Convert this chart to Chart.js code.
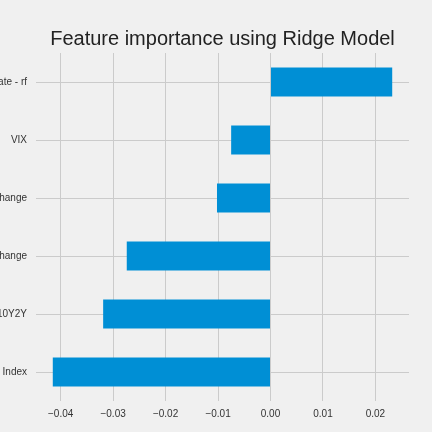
<!DOCTYPE html>
<html>
<head>
<meta charset="utf-8">
<script src="https://cdn.jsdelivr.net/npm/chart.js@4"></script>
<style>
  html, body { margin: 0; padding: 0; background: #f0f0f0; overflow: hidden; }
  canvas { display: block; }
</style>
</head>
<body>
<canvas id="ridgeChart" width="432" height="432"></canvas>
<script>
// feature names (left part is cut off by the figure edge)
const features = ['rate - rf', 'VIX', 'change', 'change', 'T10Y2Y', 'Dollar Index'];
// ridge coefficients
const coefs = [0.0232, -0.0075, -0.0102, -0.0274, -0.0319, -0.0415];
// x tick positions
const xTicks = [-0.04, -0.03, -0.02, -0.01, 0.00, 0.01, 0.02];

const FONT = '"Liberation Sans", Arial, sans-serif';

// matplotlib style minus sign
function fmtTick(v) {
  const s = Math.abs(v).toFixed(2);
  return v < 0 ? '\u2212' + s : s;
}

const ctx = document.getElementById('ridgeChart').getContext('2d');
new Chart(ctx, {
  type: 'bar',
  data: {
    labels: features,
    datasets: [{
      data: coefs,
      backgroundColor: '#008fd5',
      borderWidth: 0,
      categoryPercentage: 1.0,
      barPercentage: 0.5
    }]
  },
  options: {
    indexAxis: 'y',
    responsive: false,
    animation: false,
    devicePixelRatio: 1,
    layout: { padding: { top: 0, right: 23, bottom: 0, left: 0 } },
    plugins: {
      legend: { display: false },
      tooltip: { enabled: false },
      title: {
        display: true,
        fullSize: false,   // centre over the plot, not the whole canvas
        text: 'Feature importance using Ridge Model',
        color: '#222',
        font: { family: FONT, size: 20, weight: 'normal' },
        padding: { top: 27, bottom: 2 }
      }
    },
    scales: {
      x: {
        min: -0.0447,
        max: 0.0264,
        afterBuildTicks: (scale) => { scale.ticks = xTicks.map(v => ({ value: v })); },
        afterFit: (scale) => { scale.height = 31; },
        border: { display: false },
        grid: { color: '#cbcbcb', lineWidth: 1, drawTicks: false },
        ticks: {
          padding: 7,
          color: '#333',
          font: { family: FONT, size: 10 },
          maxRotation: 0,
          autoSkip: false,
          callback: (v) => fmtTick(v)
        }
      },
      y: {
        afterFit: (scale) => { scale.width = 36; },
        border: { display: false },
        grid: { color: '#cbcbcb', lineWidth: 1, drawTicks: false, offset: false },
        ticks: {
          padding: 9,
          color: '#333',
          font: { family: FONT, size: 10 },
          autoSkip: false
        }
      }
    }
  }
});
</script>
</body>
</html>
